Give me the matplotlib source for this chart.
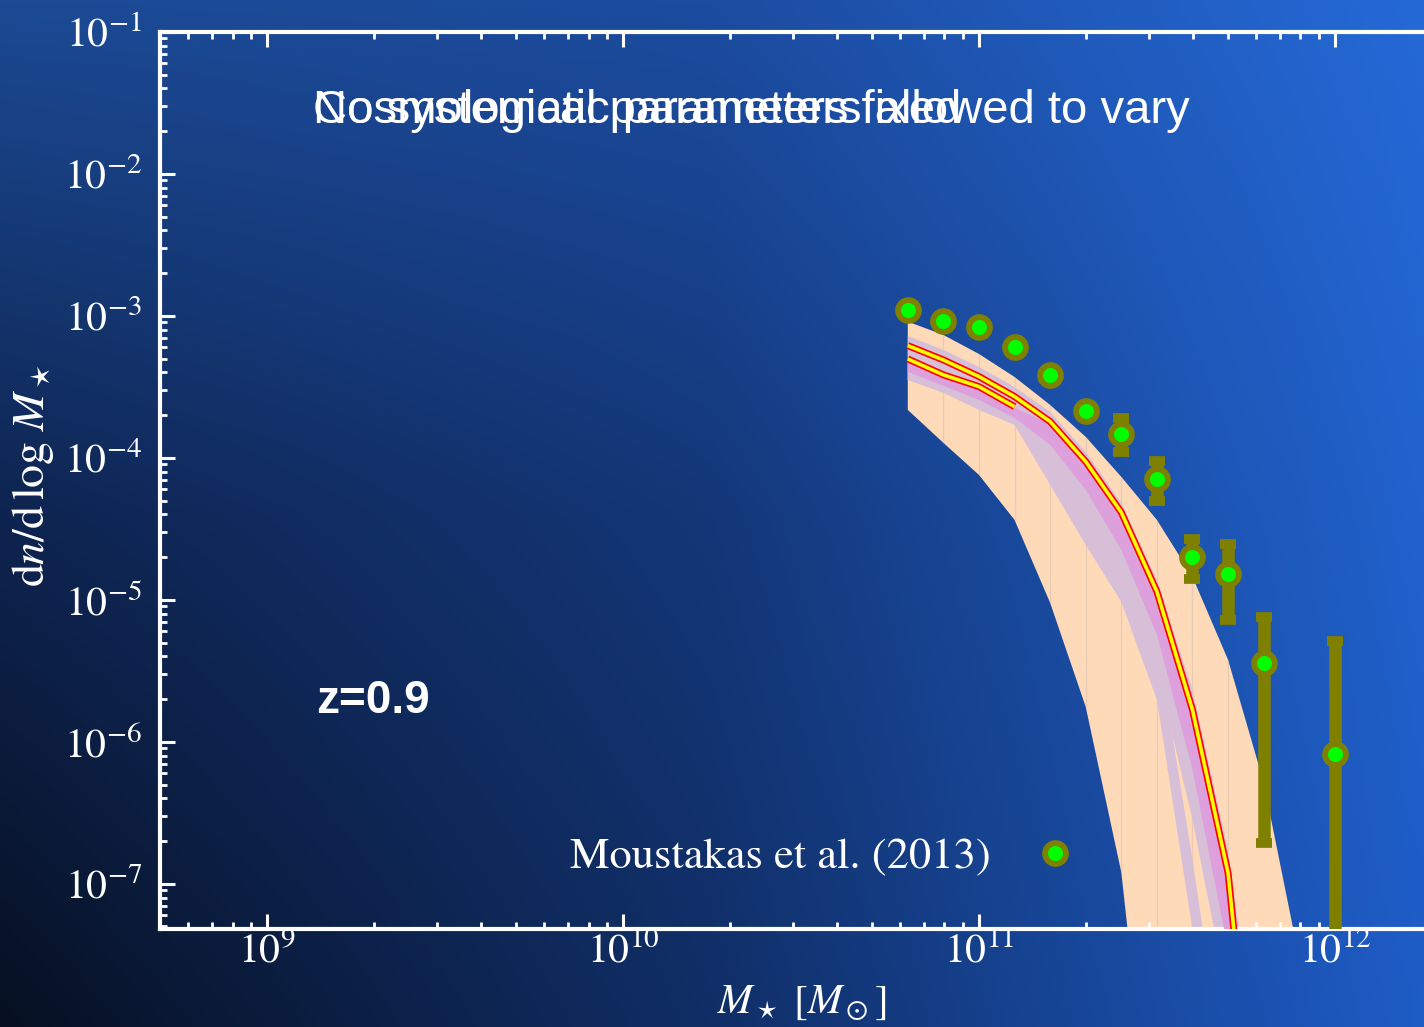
import numpy as np
import matplotlib
matplotlib.use("Agg")
import matplotlib.pyplot as plt
from matplotlib.lines import Line2D

# ---------------- data (log10 values) ----------------
log_mass_obs = [10.8, 10.9, 11.0, 11.1, 11.2, 11.3, 11.4, 11.5, 11.6, 11.7, 11.8, 12.0]
log_phi_obs = [-2.958, -3.035, -3.077, -3.218, -3.415, -3.669, -3.831, -4.148,
               -4.700, -4.819, -5.446, -6.089]
log_phi_obs_hi = [-2.950, -3.027, -3.069, -3.210, -3.407, -3.661, -3.718, -4.021,
                  -4.573, -4.608, -5.122, -5.289]
log_phi_obs_lo = [-2.966, -3.043, -3.085, -3.226, -3.423, -3.677, -3.958, -4.301,
                  -4.854, -5.143, -6.713, -9.0]

log_mass_model = [10.8, 10.9, 11.0, 11.1, 11.2, 11.3, 11.4, 11.5, 11.6, 11.7, 11.8, 11.9, 12.0]
peach_hi = [-3.040, -3.134, -3.268, -3.430, -3.627, -3.852, -4.134, -4.437, -4.838,
            -5.423, -6.286, -7.53, -9.0]
peach_lo = [-3.662, -3.894, -4.120, -4.437, -5.021, -5.754, -6.92, -9.2, -10.5,
            -11.5, -12.5, -13.5, -14.5]
bandA_hi = [-3.310, -3.401, -3.521, -3.662, -3.873, -4.225, -4.613, -5.282, -6.831,
            -8.521, -9.93, -11.0, -12.0]
bandA_lo = [-3.451, -3.542, -3.662, -3.768, -4.190, -4.613, -5.014, -5.704, -7.324,
            -8.873, -10.28, -11.5, -12.5]
bandB_hi = [-3.141, -3.239, -3.359, -3.500, -3.676, -3.958, -4.317, -4.859, -5.634,
            -6.761, -8.52, -10.0, -11.0]
bandB_lo = [-3.451, -3.535, -3.627, -3.768, -3.979, -4.331, -4.789, -5.493, -6.549,
            -7.817, -9.225, -10.5, -11.5]
orchid_hi = [-3.310, -3.423, -3.514, -3.648, -3.761, -4.035, -4.394, -4.951, -5.782,
             -6.930, -9.4, -11.0, -12.0]
orchid_lo = [-3.394, -3.493, -3.592, -3.718, -3.908, -4.225, -4.648, -5.246, -6.197,
             -7.465, -8.873, -10.2, -11.2]
best_fit = [-3.209, -3.310, -3.427, -3.568, -3.744, -4.026, -4.384, -4.942, -5.775,
            -6.925, -9.4, -11.0, -12.0]
log_mass_alt = [10.8, 10.9, 11.0, 11.1]
alt_fit = [-3.303, -3.415, -3.498, -3.639]

title_fixed = "Cosmological parameters fixed"
title_vary = "No systematic parameters allowed to vary"
redshift_label = "z=0.9"
legend_label = "Moustakas et al. (2013)"

# ---------------- figure ----------------
W, H = 1424, 1027
plt.rcParams["mathtext.fontset"] = "stix"
plt.rcParams["font.family"] = ["STIXGeneral", "DejaVu Sans"]
fig = plt.figure(figsize=(W / 100, H / 100), dpi=100)

# background gradient
bg = fig.add_axes([0, 0, 1, 1], zorder=-10)
bg.set_axis_off()
grid = np.array([
    [[28, 74, 148], [28, 76, 160], [37, 105, 215]],
    [[14, 36, 80], [20, 55, 120], [33, 98, 205]],
    [[7, 16, 34], [16, 46, 102], [30, 92, 198]],
], dtype=float) / 255.0
ny, nx = 200, 280
yy = np.linspace(0, 2, ny)
xx = np.linspace(0, 2, nx)
img = np.zeros((ny, nx, 3))
for c in range(3):
    tmp = np.array([np.interp(xx, [0, 1, 2], grid[r, :, c]) for r in range(3)])
    img[:, :, c] = np.array([np.interp(yy, [0, 1, 2], tmp[:, j]) for j in range(nx)]).T
bg.imshow(img, aspect="auto", extent=[0, 1, 0, 1], interpolation="bilinear")
bg.set_xlim(0, 1)
bg.set_ylim(0, 1)

x_left, x_right = 160, 1442
y_top, y_bot = 32, 929
ax = fig.add_axes([x_left / W, 1 - y_bot / H, (x_right - x_left) / W, (y_bot - y_top) / H])
ax.set_facecolor("none")
ax.set_xscale("log")
ax.set_yscale("log")
ax.set_xlim(5e8, 2e12)
ax.set_ylim(4.8e-8, 1e-1)

mm = 10 ** np.array(log_mass_model)
ax.fill_between(mm, 10 ** np.array(peach_lo), 10 ** np.array(peach_hi),
                color="#FFDAB9", lw=0, zorder=1)
ax.vlines(mm[1:10], 10 ** np.array(peach_lo[1:10]), 10 ** np.array(peach_hi[1:10]),
          color="#b8a8a8", lw=1.0, alpha=0.3, zorder=1.5)
ax.fill_between(mm, 10 ** np.array(bandA_lo), 10 ** np.array(bandA_hi),
                color="#D8BFD8", lw=0, zorder=2)
ax.fill_between(mm, 10 ** np.array(bandB_lo), 10 ** np.array(bandB_hi),
                color="#D8BFD8", lw=0, zorder=2)
ax.fill_between(mm, 10 ** np.array(orchid_lo), 10 ** np.array(orchid_hi),
                color="#DDA0DD", lw=0, zorder=3)

ma = 10 ** np.array(log_mass_alt)
ax.plot(ma, 10 ** np.array(alt_fit), color="red", lw=5.0, zorder=4, solid_capstyle="butt")
ax.plot(ma, 10 ** np.array(alt_fit), color="yellow", lw=2.6, zorder=4.1, solid_capstyle="butt")
ax.plot(mm, 10 ** np.array(best_fit), color="red", lw=5.0, zorder=4.2, solid_capstyle="butt")
ax.plot(mm, 10 ** np.array(best_fit), color="yellow", lw=2.6, zorder=4.3, solid_capstyle="butt")

mo = 10 ** np.array(log_mass_obs)
po = 10 ** np.array(log_phi_obs)
phi_hi = 10 ** np.array(log_phi_obs_hi)
phi_lo = 10 ** np.array(log_phi_obs_lo)
ax.errorbar(mo, po, yerr=[po - phi_lo, phi_hi - po], fmt="none", ecolor="#808000",
            elinewidth=9, capsize=5.5, capthick=7, zorder=5)
ax.plot(mo, po, ls="none", marker="o", ms=15, mfc="#00FF00", mec="#808000", mew=4.2,
        zorder=6, clip_on=False)

handle = Line2D([], [], ls="none", marker="o", ms=15, mfc="#00FF00", mec="#808000", mew=4.2)
ax.legend([handle], [legend_label], loc="center left", markerfirst=False, frameon=False,
          bbox_to_anchor=(570 / W, 1 - 857 / H), bbox_transform=fig.transFigure,
          borderaxespad=0, borderpad=0, handletextpad=0.45, handlelength=2.0,
          prop={"family": "STIXGeneral", "size": 32}, labelcolor="white")

# axes styling
for side in ["left", "top", "bottom"]:
    ax.spines[side].set_color("white")
    ax.spines[side].set_linewidth(3)
ax.spines["right"].set_visible(False)
ax.tick_params(which="both", direction="in", colors="white", top=True, right=False)
ax.tick_params(which="major", length=11, width=2.2, labelsize=30)
ax.tick_params(which="minor", length=5, width=2.0)
ax.tick_params(axis="y", which="major", pad=13)
ax.tick_params(axis="x", which="major", pad=3)
ax.set_xticks([1e9, 1e10, 1e11, 1e12])
ax.set_yticks([1e-7, 1e-6, 1e-5, 1e-4, 1e-3, 1e-2, 1e-1])

ax.set_xlabel(r"$M_\star\ [M_\odot]$", color="white", fontsize=30, va="center")
ax.xaxis.set_label_coords(0.5008, -0.0825)
ax.set_ylabel(r"$\mathrm{d}n/\mathrm{d}\,\log\,M_\star$", color="white", fontsize=33,
              va="center")
ax.yaxis.set_label_coords(-0.099, 0.506)

fig.text(313 / W, 1 - 123 / H, title_fixed, color="white", fontsize=34,
         family="Liberation Sans", va="baseline", ha="left")
fig.text(313 / W, 1 - 123 / H, title_vary, color="white", fontsize=34,
         family="Liberation Sans", va="baseline", ha="left")
fig.text(316 / W, 1 - 713 / H, redshift_label, color="white", fontsize=33,
         family="Liberation Sans", weight="bold", va="baseline", ha="left")

fig.savefig("out.png", dpi=100)
